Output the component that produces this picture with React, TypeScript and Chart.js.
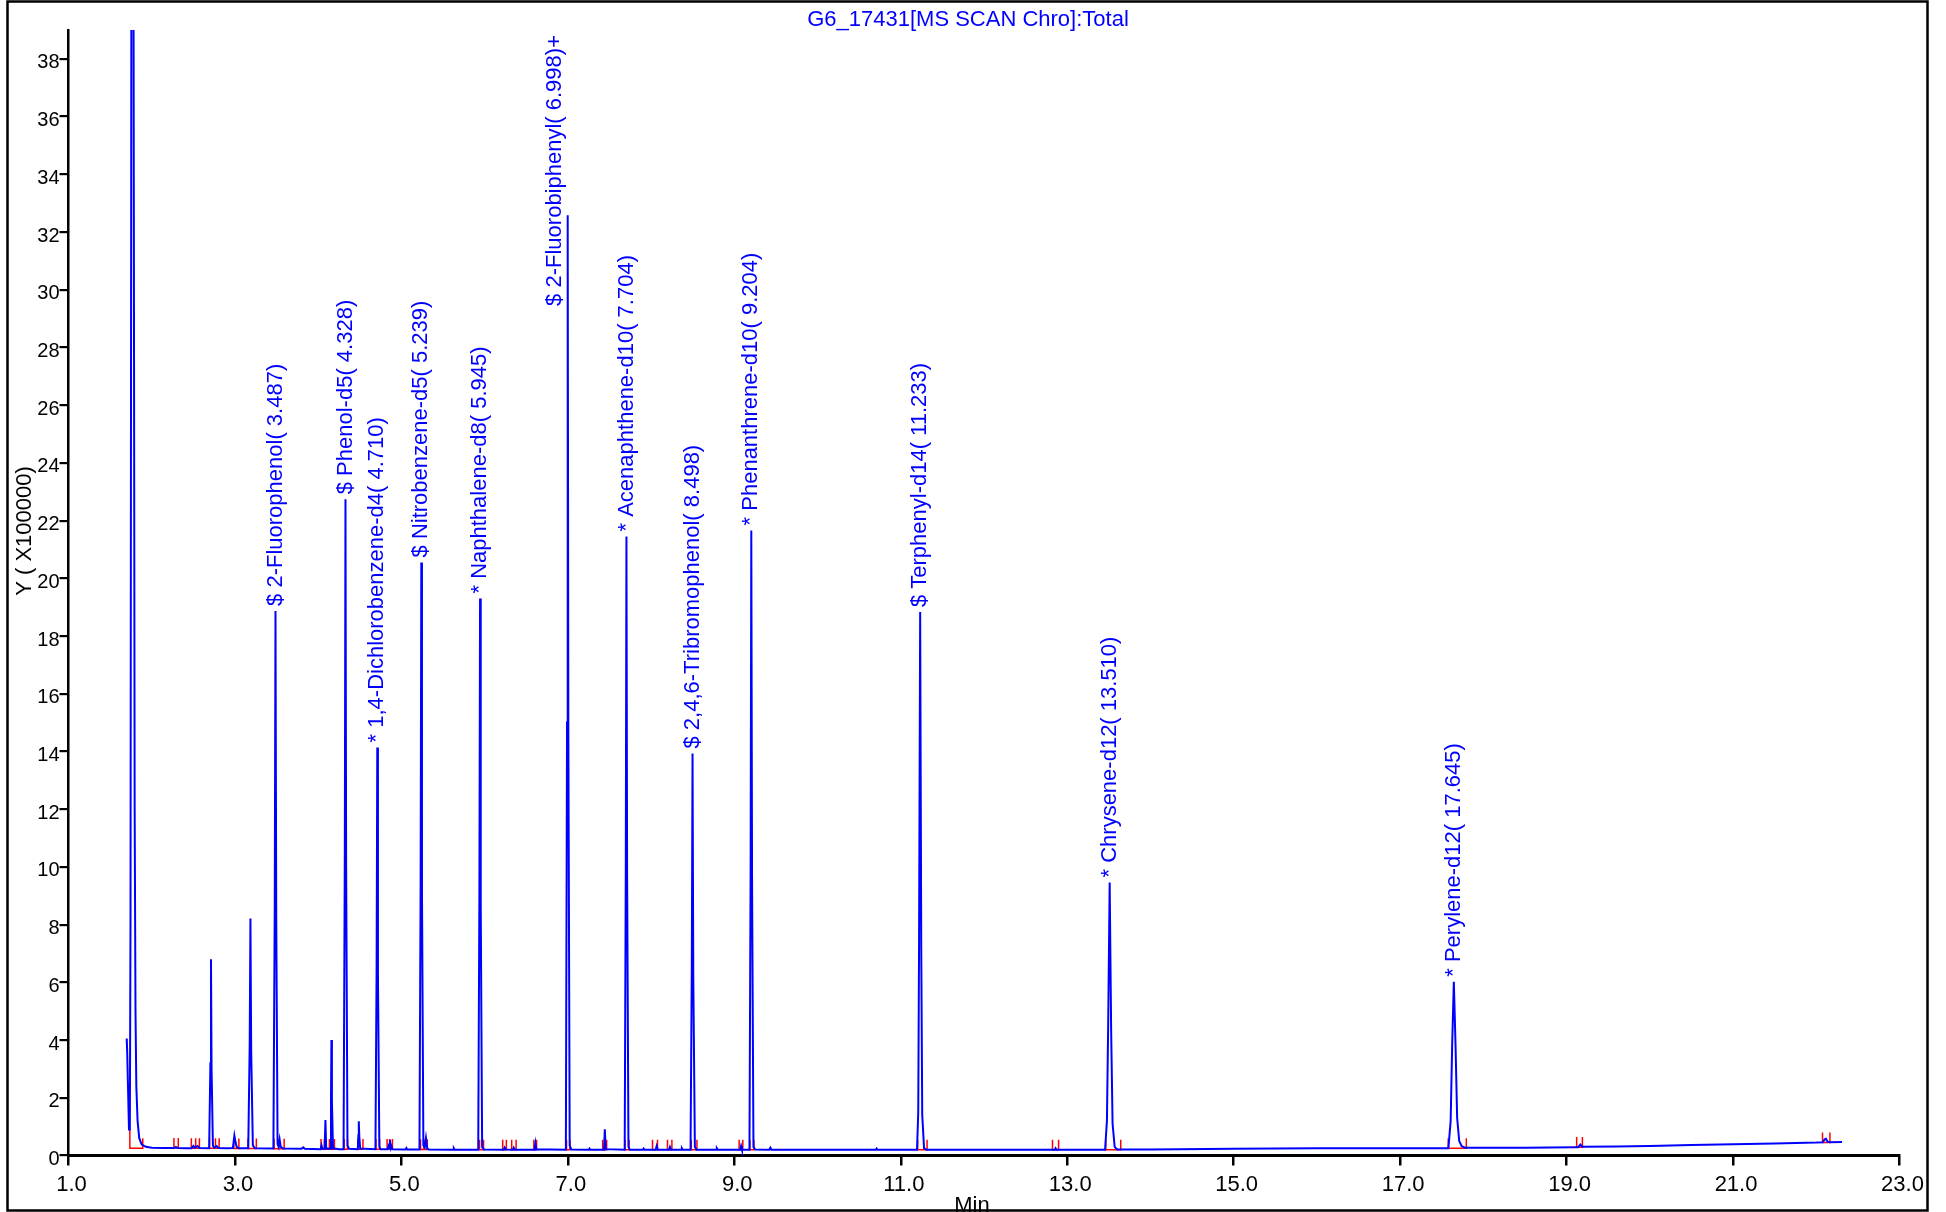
import { useEffect, useRef } from "react";
import { Chart, registerables } from "chart.js";

Chart.register(...registerables);

const W = 1946;
const H = 1212;
const FONT = "'Liberation Sans', Arial, Helvetica, sans-serif";
const BLUE = "#0000ff";
const RED = "#ff0000";

const chartTitle = "G6_17431[MS SCAN Chro]:Total";
const xAxisTitle = "Min";
const yAxisTitle = "Y ( X100000)";

// axis ticks (minutes / intensity x100000)
const xTickValues = [1, 3, 5, 7, 9, 11, 13, 15, 17, 19, 21, 23];
const yTickValues = [0, 2, 4, 6, 8, 10, 12, 14, 16, 18, 20, 22, 24, 26, 28, 30, 32, 34, 36, 38];

// identified compounds: apex retention time (min) and apex height (x100000)
const compoundNames = [
  "$ 2-Fluorophenol",
  "$ Phenol-d5",
  "* 1,4-Dichlorobenzene-d4",
  "$ Nitrobenzene-d5",
  "* Naphthalene-d8",
  "$ 2-Fluorobiphenyl",
  "* Acenaphthene-d10",
  "$ 2,4,6-Tribromophenol",
  "* Phenanthrene-d10",
  "$ Terphenyl-d14",
  "* Chrysene-d12",
  "* Perylene-d12",
];
const compoundSuffix = ["", "", "", "", "", "+", "", "", "", "", "", ""];
const compoundRT = [3.487, 4.328, 4.71, 5.239, 5.945, 6.998, 7.704, 8.498, 9.204, 11.233, 13.51, 17.645];
const compoundHeight = [18.87, 22.74, 14.14, 20.55, 19.3, 32.58, 21.45, 13.93, 21.66, 18.83, 9.46, 6.02];

// total ion chromatogram outline (apexes of identified compounds are added from the arrays above)
const tracePoints: [number, number][] = [
  [1.697, 3.9], [1.7, 4.05], [1.705, 3.6], [1.727, 0.9], [1.737, 0.92], [1.745, 8], [1.755, 39],
  [1.768, 70], [1.782, 39], [1.795, 12], [1.805, 5], [1.815, 2.4], [1.83, 1.2], [1.85, 0.6],
  [1.88, 0.38], [1.93, 0.3], [2.0, 0.27], [2.15, 0.26],
  [2.27, 0.26], [2.29, 0.3], [2.31, 0.26], [2.42, 0.25],
  [2.48, 0.25], [2.5, 0.33], [2.515, 0.27], [2.55, 0.33], [2.57, 0.26],
  [2.69, 0.25], [2.705, 3.2], [2.712, 6.8], [2.719, 3.0], [2.735, 0.35], [2.75, 0.27],
  [2.78, 0.33], [2.8, 0.26], [2.9, 0.25],
  [2.975, 0.26], [2.985, 0.5], [2.993, 0.69], [3.003, 0.52], [3.02, 0.3], [3.045, 0.25],
  [3.16, 0.25], [3.177, 3.8], [3.186, 8.21], [3.195, 3.6], [3.215, 0.35], [3.24, 0.25],
  [3.462, 0.24], [3.478, 8.6], [3.496, 8.3], [3.512, 0.4], [3.525, 0.3],
  [3.537, 0.55], [3.55, 0.3], [3.58, 0.24],
  [3.8, 0.23], [3.82, 0.28], [3.84, 0.23],
  [4.03, 0.22], [4.04, 0.35], [4.05, 0.24],
  [4.078, 0.23], [4.087, 1.23], [4.096, 0.25],
  [4.148, 0.23], [4.154, 2.0], [4.159, 4.0], [4.165, 1.9], [4.178, 0.25], [4.25, 0.22],
  [4.305, 0.22], [4.32, 10.5], [4.336, 10], [4.352, 0.35], [4.37, 0.23],
  [4.476, 0.22], [4.483, 0.7], [4.488, 1.19], [4.494, 0.65], [4.505, 0.24],
  [4.688, 0.22], [4.702, 6.5], [4.718, 6.3], [4.735, 0.3], [4.75, 0.22],
  [4.835, 0.22], [4.845, 0.32], [4.852, 0.25], [4.862, 0.54], [4.872, 0.26], [4.88, 0.32], [4.89, 0.22],
  [5.05, 0.21], [5.06, 0.26], [5.07, 0.21],
  [5.217, 0.21], [5.231, 9.5], [5.247, 9.2], [5.264, 0.35], [5.28, 0.28], [5.295, 0.6], [5.31, 0.24], [5.33, 0.21],
  [5.62, 0.2], [5.63, 0.25], [5.64, 0.2],
  [5.923, 0.2], [5.937, 9], [5.953, 8.7], [5.97, 0.3], [5.99, 0.21],
  [6.23, 0.2], [6.24, 0.28], [6.255, 0.21],
  [6.34, 0.2], [6.35, 0.27], [6.365, 0.2],
  [6.6, 0.2], [6.61, 0.42], [6.62, 0.22],
  [6.976, 0.2], [6.99, 15], [7.006, 14.5], [7.022, 0.35], [7.04, 0.21],
  [7.25, 0.2], [7.26, 0.24], [7.27, 0.2],
  [7.434, 0.2], [7.444, 0.91], [7.455, 0.22],
  [7.683, 0.2], [7.696, 10], [7.712, 9.7], [7.728, 0.3], [7.745, 0.2],
  [7.9, 0.2], [7.91, 0.24], [7.92, 0.2],
  [8.055, 0.2], [8.067, 0.33], [8.08, 0.2],
  [8.215, 0.2], [8.227, 0.3], [8.24, 0.2],
  [8.36, 0.2], [8.37, 0.25], [8.38, 0.2],
  [8.474, 0.2], [8.489, 6.5], [8.507, 6.2], [8.526, 0.3], [8.545, 0.2],
  [8.78, 0.2], [8.79, 0.25], [8.8, 0.2],
  [9.07, 0.2], [9.081, 0.33], [9.092, 0.2],
  [9.182, 0.2], [9.196, 10], [9.213, 9.6], [9.23, 0.3], [9.25, 0.21],
  [9.42, 0.2], [9.433, 0.27], [9.445, 0.2],
  [10.0, 0.2], [10.7, 0.2], [10.71, 0.24], [10.72, 0.2],
  [11.195, 0.2], [11.21, 1.5], [11.22, 7.5], [11.246, 7.2], [11.258, 1.4], [11.28, 0.25], [11.31, 0.2],
  [12.0, 0.2], [12.85, 0.2], [12.86, 0.25], [12.87, 0.2],
  [13.455, 0.2], [13.477, 1.2], [13.492, 4.5], [13.528, 4.3], [13.545, 1.1], [13.57, 0.3], [13.6, 0.21],
  [14.0, 0.21], [15.0, 0.23], [16.0, 0.25], [17.0, 0.25], [17.5, 0.25],
  [17.58, 0.25], [17.607, 1.2], [17.625, 3.8], [17.665, 3.9], [17.685, 1.3], [17.71, 0.5], [17.74, 0.32], [17.78, 0.27],
  [18.5, 0.27], [19.1, 0.29], [19.14, 0.29], [19.165, 0.38], [19.19, 0.3],
  [19.6, 0.31], [20.0, 0.33], [20.5, 0.36], [21.0, 0.39], [21.5, 0.42], [22.0, 0.45],
  [22.08, 0.46], [22.1, 0.56], [22.117, 0.58], [22.135, 0.48], [22.16, 0.46], [22.31, 0.47],
];

// integration windows: start / end (min) and baseline level under each window
const integStart = [1.737, 2.267, 2.476, 2.528, 2.694, 2.766, 2.987, 3.157, 3.47, 4.034, 4.075, 4.135, 4.312, 4.477, 4.694, 4.828, 4.859, 5.23, 5.27, 5.939, 6.217, 6.325, 6.591, 6.984, 7.418, 7.687, 8.017, 8.197, 8.483, 9.058, 9.187, 11.203, 12.823, 13.462, 17.578, 19.121, 22.075];
const integEnd = [1.892, 2.319, 2.528, 2.573, 2.766, 2.81, 3.047, 3.257, 3.591, 4.075, 4.135, 4.195, 4.352, 4.538, 4.738, 4.859, 4.892, 5.27, 5.311, 5.987, 6.261, 6.378, 6.624, 7.024, 7.466, 7.735, 8.077, 8.25, 8.551, 9.102, 9.235, 11.316, 12.896, 13.643, 17.795, 19.19, 22.164];
const integLevel = [0.25, 0.26, 0.25, 0.25, 0.25, 0.25, 0.24, 0.24, 0.23, 0.22, 0.22, 0.22, 0.22, 0.22, 0.22, 0.22, 0.22, 0.21, 0.21, 0.2, 0.2, 0.2, 0.2, 0.2, 0.2, 0.2, 0.2, 0.2, 0.2, 0.2, 0.2, 0.2, 0.2, 0.2, 0.25, 0.29, 0.45];
const integTick = 0.35;
const solventStartTop = 0.92;

type Pt = { x: number; y: number | null };

function buildTrace(): Pt[] {
  const pts: Pt[] = tracePoints.map(([x, y]) => ({ x, y }));
  compoundRT.forEach((rt, i) => pts.push({ x: rt, y: compoundHeight[i] }));
  pts.sort((a, b) => a.x - b.x);
  return pts;
}

function buildMarkers(): Pt[] {
  const pts: Pt[] = [];
  integStart.forEach((s, i) => {
    const e = integEnd[i];
    const b = integLevel[i];
    const top = i === 0 ? solventStartTop : b + integTick;
    pts.push({ x: s, y: top }, { x: s, y: b }, { x: e, y: b }, { x: e, y: b + integTick }, { x: e, y: null });
  });
  return pts;
}

const annotate = {
  id: "annotate",
  afterDatasetsDraw(chart: any) {
    const { ctx, chartArea } = chart;
    const xs = chart.scales.x;
    const ys = chart.scales.y;
    ctx.save();
    ctx.fillStyle = BLUE;
    ctx.font = `22px ${FONT}`;
    ctx.textAlign = "left";
    ctx.textBaseline = "middle";
    compoundNames.forEach((name, i) => {
      const text = `${name}( ${compoundRT[i].toFixed(3)})${compoundSuffix[i]}`;
      const px = xs.getPixelForValue(compoundRT[i]);
      const py = ys.getPixelForValue(compoundHeight[i]);
      const w = ctx.measureText(text).width;
      let bx = px;
      let by = py - 5;
      if (by - w < chartArea.top + 5) {
        bx = px - 13;
        by = chartArea.top + 5 + w;
      }
      ctx.save();
      ctx.translate(bx, by);
      ctx.rotate(-Math.PI / 2);
      ctx.fillText(text, 0, 0);
      ctx.restore();
    });
    ctx.restore();
  },
  afterDraw(chart: any) {
    const { ctx } = chart;
    ctx.save();
    ctx.font = `22px ${FONT}`;
    ctx.fillStyle = BLUE;
    ctx.textAlign = "center";
    ctx.textBaseline = "alphabetic";
    ctx.fillText(chartTitle, 968, 26);

    ctx.fillStyle = "#000";
    ctx.fillText(xAxisTitle, 972, 1212);

    ctx.save();
    ctx.translate(25, 531);
    ctx.rotate(-Math.PI / 2);
    ctx.textBaseline = "middle";
    ctx.fillText(yAxisTitle, 0, 0);
    ctx.restore();

    ctx.strokeStyle = "#000";
    ctx.lineWidth = 2.5;
    ctx.strokeRect(7.5, 1.5, 1920, 1209);
    ctx.restore();
  },
};

export default function App() {
  const ref = useRef<HTMLCanvasElement>(null);

  useEffect(() => {
    const canvas = ref.current;
    if (!canvas) return;
    const chart = new Chart(canvas, {
      type: "line",
      data: {
        datasets: [
          {
            data: buildTrace() as any,
            borderColor: BLUE,
            borderWidth: 2,
            pointRadius: 0,
            tension: 0,
            fill: false,
          },
          {
            data: buildMarkers() as any,
            borderColor: RED,
            borderWidth: 1.5,
            pointRadius: 0,
            tension: 0,
            fill: false,
            spanGaps: false,
          },
        ],
      },
      options: {
        responsive: false,
        devicePixelRatio: 1,
        animation: false,
        events: [],
        parsing: false as any,
        normalized: true,
        layout: { padding: { top: 30, right: 46.5, left: 0, bottom: 0 } },
        plugins: { legend: { display: false }, tooltip: { enabled: false }, title: { display: false } },
        scales: {
          x: {
            type: "linear",
            position: "bottom",
            min: 1,
            max: 23,
            afterBuildTicks: (s: any) => {
              s.ticks = xTickValues.map((v) => ({ value: v }));
            },
            afterFit: (s: any) => {
              s.height = 56.5;
            },
            ticks: {
              autoSkip: false,
              maxRotation: 0,
              padding: 6,
              labelOffset: 3,
              color: "#000",
              font: { family: FONT, size: 22 },
              callback: (v: any) => Number(v).toFixed(1),
            },
            grid: { display: true, drawOnChartArea: false, drawTicks: true, tickLength: 10, color: "#000", lineWidth: 2.5 },
            border: { display: true, color: "#000", width: 3 },
          },
          y: {
            type: "linear",
            position: "left",
            min: 0,
            max: 39,
            afterBuildTicks: (s: any) => {
              s.ticks = yTickValues.map((v) => ({ value: v }));
            },
            afterFit: (s: any) => {
              s.width = 68.5;
            },
            ticks: {
              autoSkip: false,
              padding: 0,
              labelOffset: 4,
              color: "#000",
              font: { family: FONT, size: 20 },
              callback: (v: any) => String(v),
            },
            grid: { display: true, drawOnChartArea: false, drawTicks: true, tickLength: 9, color: "#000", lineWidth: 2.2 },
            border: { display: true, color: "#000", width: 2.5 },
          },
        },
      },
      plugins: [annotate],
    } as any);
    return () => chart.destroy();
  }, []);

  return (
    <div style={{ position: "fixed", left: 0, top: 0, width: W, height: H, background: "#fff" }}>
      <canvas ref={ref} width={W} height={H} style={{ width: W, height: H, display: "block" }} />
    </div>
  );
}
